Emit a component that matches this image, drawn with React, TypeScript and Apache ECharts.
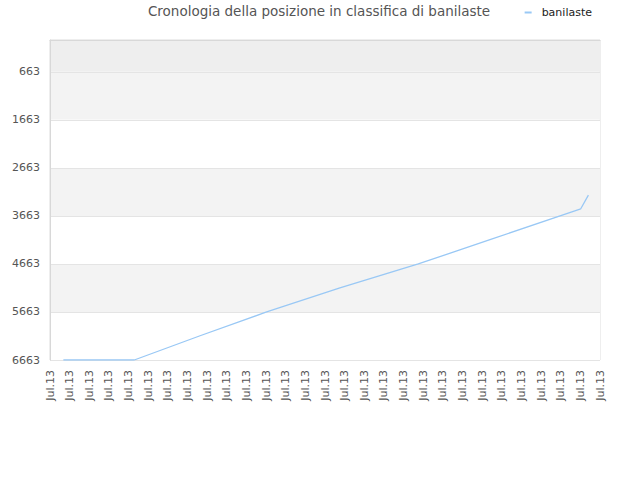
import { useEffect, useRef } from 'react';
import * as echarts from 'echarts';

const tickCount = 29;
const tickLabels = Array.from({ length: tickCount }, () => 'Jul.13');
const dayIndex = [0.68, 4.29, 7.64, 11.03, 14.76, 18.75, 22.4, 27.02, 27.41];
const rankValues = [6663, 6663, 6158, 5663, 5163, 4663, 4158, 3514, 3229];
const rankTicks = [663, 1663, 2663, 3663, 4663, 5663, 6663];

export default function App() {
  const ref = useRef<HTMLDivElement>(null);

  useEffect(() => {
    if (!ref.current) return;
    const chart = echarts.init(ref.current, null, { renderer: 'svg' });
    const font = 'DejaVu Sans, sans-serif';
    chart.setOption({
      animation: false,
      textStyle: { fontFamily: font },
      title: {
        text: 'Cronologia della posizione in classifica di banilaste',
        left: 317,
        textAlign: 'center',
        top: 2,
        padding: 2,
        textStyle: { fontSize: 13.5, fontWeight: 'normal', color: '#555', fontFamily: font }
      },
      legend: {
        right: 43,
        top: 2,
        icon: 'rect',
        itemWidth: 7,
        itemHeight: 2,
        itemGap: 8,
        textStyle: { fontSize: 11, color: '#222', fontFamily: font, padding: [0, 0, 0, 5] },
        data: ['banilaste']
      },
      grid: {
        left: 50,
        right: 40,
        top: 40,
        bottom: 120,
        show: true,
        borderColor: '#dddddd',
        borderWidth: 1
      },
      xAxis: {
        type: 'value',
        min: 0,
        max: tickCount - 1,
        interval: 1,
        axisLine: { show: true, lineStyle: { color: '#d8d8d8' } },
        axisTick: { show: false },
        splitLine: { show: false },
        axisLabel: {
          rotate: 90,
          fontSize: 11,
          color: '#555',
          margin: 10,
          formatter: (v: number) => tickLabels[Math.round(v)] ?? ''
        }
      },
      yAxis: {
        type: 'value',
        inverse: true,
        min: 0,
        max: 6663,
        axisLine: { show: true, lineStyle: { color: '#d8d8d8' } },
        axisTick: { show: false, customValues: [0, ...rankTicks] },
        axisLabel: {
          fontSize: 11,
          color: '#555',
          margin: 10,
          customValues: rankTicks,
          formatter: (v: number) => String(v)
        },
        splitLine: { show: true, lineStyle: { color: '#e4e4e4' } },
        splitArea: {
          show: true,
          areaStyle: {
            color: ['#eeeeee', '#f3f3f3', '#ffffff', '#f3f3f3', '#ffffff', '#f3f3f3', '#ffffff']
          }
        }
      },
      series: [
        {
          name: 'banilaste',
          type: 'line',
          showSymbol: false,
          symbol: 'none',
          color: '#99c8f5',
          lineStyle: { color: '#99c8f5', width: 1.3 },
          data: dayIndex.map((d, i) => [d, rankValues[i]])
        }
      ]
    });
    return () => {
      chart.dispose();
    };
  }, []);

  return (
    <div
      ref={ref}
      style={{ position: 'absolute', left: 0, top: 0, width: 640, height: 480 }}
    />
  );
}
